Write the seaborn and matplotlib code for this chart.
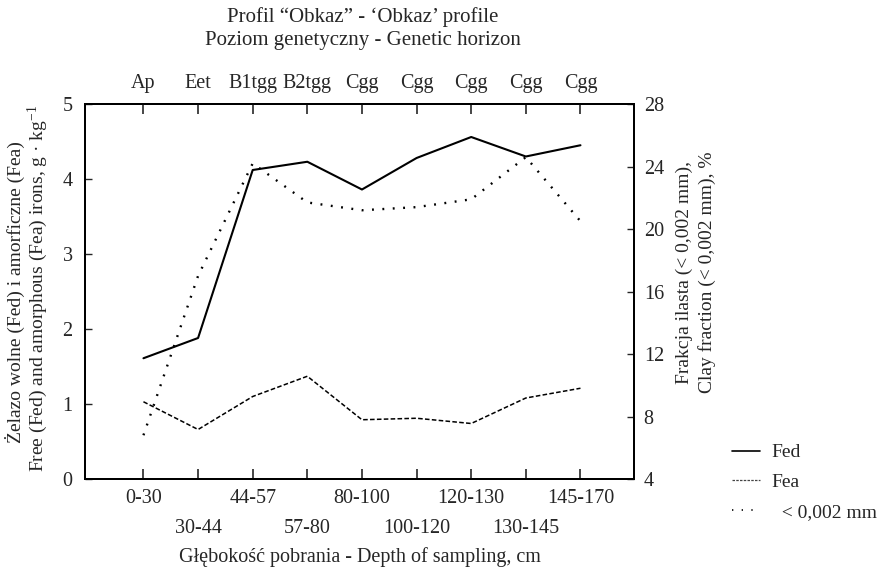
import matplotlib
matplotlib.use("Agg")
import matplotlib.pyplot as plt
from matplotlib.lines import Line2D
import numpy as np
import pandas as pd
import seaborn as sns

# Sampling depths (cm) and genetic horizons of the "Obkaz" profile
depths = ["0-30", "30-44", "44-57", "57-80", "80-100", "100-120",
          "120-130", "130-145", "145-170"]
horizons = ["Ap", "Eet", "B1tgg", "B2tgg", "Cgg", "Cgg", "Cgg", "Cgg", "Cgg"]

# Free (Fed) and amorphous (Fea) iron, g/kg
fed = [1.61, 1.88, 4.12, 4.23, 3.86, 4.28, 4.56, 4.30, 4.45]
fea = [1.03, 0.66, 1.10, 1.37, 0.79, 0.81, 0.74, 1.08, 1.21]
# Clay fraction (< 0.002 mm), %
clay = [6.8, 17.0, 24.2, 21.7, 21.2, 21.4, 21.9, 24.6, 20.5]

sns.set_style("ticks")
plt.rcParams["font.family"] = ["Liberation Serif", "DejaVu Serif"]
plt.rcParams["mathtext.fontset"] = "custom"
plt.rcParams["mathtext.rm"] = "Liberation Serif"
plt.rcParams["mathtext.it"] = "Liberation Serif:italic"

pos = np.arange(len(depths))
df = pd.DataFrame({"pos": pos, "Fed": fed, "Fea": fea, "clay": clay})

W, H = 893, 571
fig = plt.figure(figsize=(W / 100, H / 100), dpi=100)
L, R, T, B = 85, 634, 104, 479
ax = fig.add_axes([L / W, 1 - B / H, (R - L) / W, (B - T) / H])

fs = 14.5
sns.lineplot(data=df, x="pos", y="Fed", ax=ax, color="black", lw=1.5)
sns.lineplot(data=df, x="pos", y="Fea", ax=ax, color="black", lw=1.1,
             linestyle=(0, (3, 1.5)))
ax.set_xlim(-1.07, 8.98)
ax.set_ylim(0, 5)
ax.set_yticks(range(0, 6))
ax.set_ylabel("")
ax.set_xlabel("")

# staggered depth labels: first row on major ticks, second row on minor ticks
ax.set_xticks(pos[::2], labels=depths[::2])
ax.set_xticks(pos[1::2], labels=depths[1::2], minor=True)
ax.tick_params(axis="x", which="major", direction="in", length=7, width=1.2,
               pad=7, labelsize=fs)
ax.tick_params(axis="x", which="minor", direction="in", length=7, width=1.2,
               pad=29, labelsize=fs)
ax.tick_params(axis="y", direction="in", length=5, width=1, pad=9, labelsize=fs)

ax2 = ax.twinx()
sns.lineplot(data=df, x="pos", y="clay", ax=ax2, color="black", lw=1.7,
             linestyle=(0, (0.8, 3.6)))
ax2.set_ylim(4, 28)
ax2.set_yticks(range(4, 29, 4))
ax2.set_ylabel("")
ax2.tick_params(axis="y", direction="in", length=5, width=1, pad=7, labelsize=fs)

# genetic horizons along the top
ax3 = ax.twiny()
ax3.set_xlim(ax.get_xlim())
ax3.set_xticks(pos, labels=horizons)
ax3.tick_params(axis="x", direction="in", length=7, width=1.2, pad=8,
                labelsize=fs)

for a in (ax, ax2, ax3):
    for s in a.spines.values():
        s.set_linewidth(1.3)
        s.set_color("black")

fts = 15
fig.text(363 / W, 1 - 17 / H, "Profil \u201cObkaz\u201d - \u2018Obkaz\u2019 profile",
         ha="center", va="center", fontsize=fts)
fig.text(363 / W, 1 - 40 / H, "Poziom genetyczny - Genetic horizon",
         ha="center", va="center", fontsize=fts)
fig.text(360 / W, 1 - 557 / H, "G\u0142\u0119boko\u015b\u0107 pobrania - Depth of sampling, cm",
         ha="center", va="center", fontsize=14.5)

fig.text(15 / W, 1 - 292 / H, "\u017belazo wolne (Fed) i amorficzne (Fea)",
         rotation=90, ha="center", va="center", fontsize=14)
fig.text(38 / W, 1 - 288 / H,
         "Free (Fed) and amorphous (Fea) irons, g \u00b7 kg$^{-1}$",
         rotation=90, ha="center", va="center", fontsize=14)
fig.text(684 / W, 1 - 272 / H, "Frakcja ilasta (< 0,002 mm),",
         rotation=90, ha="center", va="center", fontsize=14)
fig.text(707 / W, 1 - 272 / H, "Clay fraction (< 0,002 mm), %",
         rotation=90, ha="center", va="center", fontsize=14)

handles = [
    Line2D([], [], color="black", lw=1.2),
    Line2D([], [], color="#444444", lw=0.9, linestyle=(0, (2, 1))),
    Line2D([], [], color="black", lw=1.2, linestyle=(0, (0.8, 5))),
]
fig.legend(handles, ["Fed", "Fea", "  < 0,002 mm"], loc="upper left",
           bbox_to_anchor=(724 / W, 1 - 436 / H), frameon=False,
           fontsize=14, handlelength=1.45, handletextpad=0.6,
           labelspacing=0.62, borderaxespad=0)

fig.savefig("out.png", dpi=100)
